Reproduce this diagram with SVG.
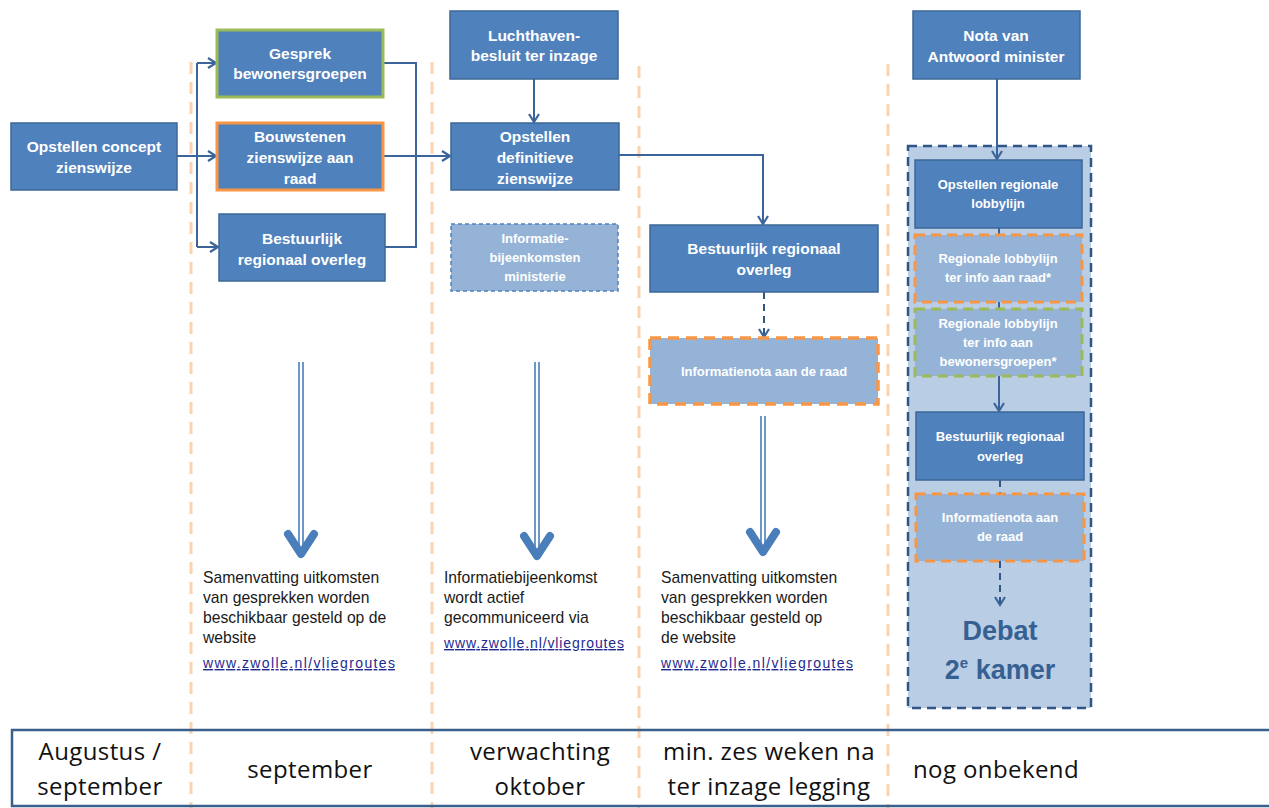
<svg xmlns="http://www.w3.org/2000/svg" width="1269" height="808" viewBox="0 0 1269 808">
<defs>
<marker id="chev" markerWidth="12" markerHeight="12" refX="9" refY="6" orient="auto" markerUnits="userSpaceOnUse">
<path d="M1,1 L9,6 L1,11" fill="none" stroke="#3b659a" stroke-width="2.2"/>
</marker>
<style>
.box{fill:#4f81bd;stroke:#3d6797;stroke-width:1.5}
.t{font-family:"Liberation Sans",Arial,sans-serif;font-weight:bold;fill:#ffffff;text-anchor:middle}
.t15{font-size:15.5px}
.t13{font-size:13px}
.div{stroke:#fbd3b0;stroke-width:3;stroke-dasharray:12 8;fill:none}
.con{stroke:#3b659a;stroke-width:2;fill:none}
.dcon{stroke:#2f5686;stroke-width:2;fill:none;stroke-dasharray:7 5}
.big{stroke:#4a7ebb;stroke-width:1.6;fill:none}
.head{stroke:#4a7ebb;stroke-width:8;fill:none;stroke-linecap:round;stroke-linejoin:round}
.body{font-family:"Liberation Sans",Arial,sans-serif;font-size:15.7px;fill:#1a1a1a}
.link{font-family:"Liberation Sans",Arial,sans-serif;font-size:14px;fill:#1f2a8f;text-decoration:underline}
.tab{font-family:"Open Sans","Liberation Sans",sans-serif;font-size:24px;fill:#111;letter-spacing:0.4px}
</style>
</defs>
<rect width="1269" height="808" fill="#ffffff"/>

<g id="dividers">
<line class="div" x1="191" y1="62" x2="191" y2="808"/>
<line class="div" x1="432" y1="62" x2="432" y2="808"/>
<line class="div" x1="639" y1="66" x2="639" y2="808"/>
<line class="div" x1="888" y1="64" x2="888" y2="808"/>
</g>

<g id="timeline">
<rect x="12" y="730" width="1262" height="76" fill="none" stroke="#3a5f8a" stroke-width="2.5"/>
<text class="tab" x="100" y="760" text-anchor="middle">Augustus /</text>
<text class="tab" x="100" y="795" text-anchor="middle">september</text>
<text class="tab" x="310" y="778" text-anchor="middle">september</text>
<text class="tab" x="540" y="760" text-anchor="middle">verwachting</text>
<text class="tab" x="540" y="795" text-anchor="middle">oktober</text>
<text class="tab" x="769" y="760" text-anchor="middle">min. zes weken na</text>
<text class="tab" x="769" y="795" text-anchor="middle">ter inzage legging</text>
<text class="tab" x="913" y="778">nog onbekend</text>
</g>

<g id="container">
<rect x="908" y="146" width="183" height="562" fill="#b9cde5" stroke="#2f5686" stroke-width="2.5" stroke-dasharray="9 6"/>
</g>

<g id="connectors">
<path class="con" d="M177,156 H197"/>
<path class="con" d="M197,63 V247"/>
<path class="con" d="M197,63 H216" marker-end="url(#chev)"/>
<path class="con" d="M197,156 H216" marker-end="url(#chev)"/>
<path class="con" d="M197,247 H218" marker-end="url(#chev)"/>
<path class="con" d="M383,63 H416 V247 H385"/>
<path class="con" d="M383,156 H450" marker-end="url(#chev)"/>
<path class="con" d="M534,79 V122" marker-end="url(#chev)"/>
<path class="con" d="M619,155 H763 V224" marker-end="url(#chev)"/>
<path class="dcon" d="M764,292 V337" marker-end="url(#chev)"/>
<path class="con" d="M997,79 V159" marker-end="url(#chev)"/>
<path class="con" d="M999,228 V235"/>
<path class="con" d="M999,302 V309"/>
<path class="con" d="M999,376 V411" marker-end="url(#chev)"/>
<path class="dcon" d="M1000,480 V494"/>
<path class="dcon" d="M1000,561 V605" marker-end="url(#chev)"/>
<path class="big" d="M299,362 V553 M303,362 V553"/>
<path class="head" d="M288,534 L301,554 L314,534"/>
<path class="big" d="M535,362 V555 M539,362 V555"/>
<path class="head" d="M524,536 L537,556 L550,536"/>
<path class="big" d="M761,416 V551 M765,416 V551"/>
<path class="head" d="M750,532 L763,552 L776,532"/>
</g>

<g id="n-concept">
<rect class="box" x="11" y="123" width="166" height="67"/>
<text class="t t15" x="94" y="152">Opstellen concept</text>
<text class="t t15" x="94" y="173">zienswijze</text>
</g>
<g id="n-gesprek">
<rect x="217" y="30" width="166" height="67" fill="#4f81bd" stroke="#9bbb59" stroke-width="3"/>
<text class="t t15" x="300" y="59">Gesprek</text>
<text class="t t15" x="300" y="79">bewonersgroepen</text>
</g>
<g id="n-bouwstenen">
<rect x="217" y="123" width="166" height="67" fill="#4f81bd" stroke="#f79646" stroke-width="3"/>
<text class="t t15" x="300" y="142">Bouwstenen</text>
<text class="t t15" x="300" y="163">zienswijze aan</text>
<text class="t t15" x="300" y="184">raad</text>
</g>
<g id="n-bestuurlijk1">
<rect class="box" x="219" y="214" width="166" height="67"/>
<text class="t t15" x="302" y="244">Bestuurlijk</text>
<text class="t t15" x="302" y="265">regionaal overleg</text>
</g>
<g id="n-luchthaven">
<rect class="box" x="450" y="11" width="168" height="68"/>
<text class="t t15" x="534" y="41">Luchthaven-</text>
<text class="t t15" x="534" y="61">besluit ter inzage</text>
</g>
<g id="n-definitief">
<rect class="box" x="451" y="123" width="168" height="67"/>
<text class="t t15" x="535" y="142">Opstellen</text>
<text class="t t15" x="535" y="163">definitieve</text>
<text class="t t15" x="535" y="184">zienswijze</text>
</g>
<g id="n-infobijeenkomst">
<rect x="451" y="224" width="167" height="67" fill="#95b3d7" stroke="#4f81bd" stroke-width="1.5" stroke-dasharray="4 3"/>
<text class="t t13" x="535" y="243">Informatie-</text>
<text class="t t13" x="535" y="262">bijeenkomsten</text>
<text class="t t13" x="535" y="281">ministerie</text>
</g>
<g id="n-bestuurlijk2">
<rect class="box" x="650" y="225" width="228" height="67"/>
<text class="t t15" x="764" y="254">Bestuurlijk regionaal</text>
<text class="t t15" x="764" y="275">overleg</text>
</g>
<g id="n-infonota1">
<rect x="650" y="338" width="228" height="66" fill="#95b3d7" stroke="#f79646" stroke-width="3.5" stroke-dasharray="11 7"/>
<text class="t t13" x="764" y="376">Informatienota aan de raad</text>
</g>
<g id="n-nota">
<rect class="box" x="913" y="11" width="167" height="68"/>
<text class="t t15" x="996" y="41">Nota van</text>
<text class="t t15" x="996" y="62">Antwoord minister</text>
</g>
<g id="n-lobby">
<rect class="box" x="915" y="160" width="167" height="68"/>
<text class="t t13" x="998" y="189">Opstellen regionale</text>
<text class="t t13" x="998" y="208">lobbylijn</text>
</g>
<g id="n-lobbyraad">
<rect x="915" y="235" width="167" height="67" fill="#95b3d7" stroke="#f79646" stroke-width="3" stroke-dasharray="10 6"/>
<text class="t t13" x="998" y="263">Regionale lobbylijn</text>
<text class="t t13" x="998" y="282">ter info aan raad*</text>
</g>
<g id="n-lobbybewoners">
<rect x="915" y="309" width="167" height="67" fill="#95b3d7" stroke="#9bbb59" stroke-width="3" stroke-dasharray="10 6"/>
<text class="t t13" x="998" y="328">Regionale lobbylijn</text>
<text class="t t13" x="998" y="347">ter info aan</text>
<text class="t t13" x="998" y="366">bewonersgroepen*</text>
</g>
<g id="n-bestuurlijk3">
<rect class="box" x="916" y="412" width="168" height="68"/>
<text class="t t13" x="1000" y="441">Bestuurlijk regionaal</text>
<text class="t t13" x="1000" y="461">overleg</text>
</g>
<g id="n-infonota2">
<rect x="916" y="494" width="168" height="67" fill="#95b3d7" stroke="#f79646" stroke-width="3" stroke-dasharray="10 6"/>
<text class="t t13" x="1000" y="522">Informatienota aan</text>
<text class="t t13" x="1000" y="541">de raad</text>
</g>
<g id="n-debat">
<text x="1000" y="640" text-anchor="middle" font-family="Liberation Sans, Arial, sans-serif" font-weight="bold" font-size="27" fill="#376092">Debat</text>
<text x="1000" y="679" text-anchor="middle" font-family="Liberation Sans, Arial, sans-serif" font-weight="bold" font-size="27" fill="#376092">2<tspan font-size="15" dy="-11">e</tspan><tspan dy="11"> kamer</tspan></text>
</g>

<g id="notes">
<text class="body" x="203" y="583">Samenvatting uitkomsten</text>
<text class="body" x="203" y="603">van gesprekken worden</text>
<text class="body" x="203" y="623">beschikbaar gesteld op de</text>
<text class="body" x="203" y="643">website</text>
<text class="link" x="203" y="668" textLength="192" lengthAdjust="spacing">www.zwolle.nl/vliegroutes</text>
<text class="body" x="444" y="583">Informatiebijeenkomst</text>
<text class="body" x="444" y="603">wordt actief</text>
<text class="body" x="444" y="623">gecommuniceerd via</text>
<text class="link" x="444" y="648" textLength="180" lengthAdjust="spacing">www.zwolle.nl/vliegroutes</text>
<text class="body" x="661" y="583">Samenvatting uitkomsten</text>
<text class="body" x="661" y="603">van gesprekken worden</text>
<text class="body" x="661" y="623">beschikbaar gesteld op</text>
<text class="body" x="661" y="643">de website</text>
<text class="link" x="661" y="668" textLength="192" lengthAdjust="spacing">www.zwolle.nl/vliegroutes</text>
</g>
</svg>
